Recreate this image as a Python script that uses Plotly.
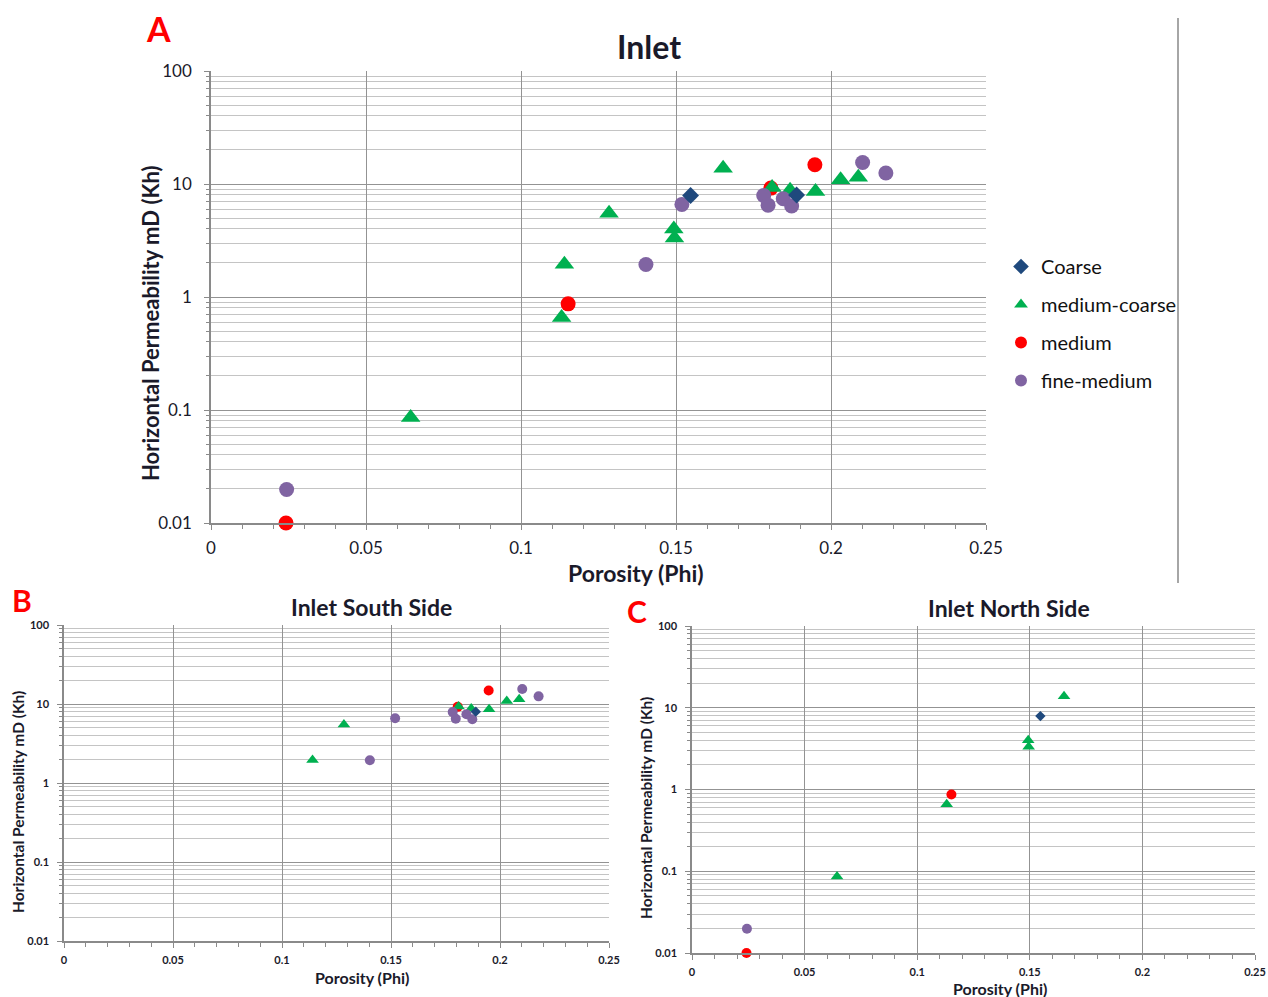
import plotly.graph_objects as go

# ---------------- data ----------------
coarse_south_phi = [0.1889]
coarse_south_kh = [8.0]
coarse_north_phi = [0.1547]
coarse_north_kh = [7.9]

mc_south_phi = [0.1140, 0.1284, 0.1810, 0.1868, 0.1950, 0.2031, 0.2088]
mc_south_kh = [1.95, 5.5, 9.3, 8.8, 8.6, 10.9, 11.5]
mc_north_phi = [0.0644, 0.1131, 0.1493, 0.1495, 0.1652]
mc_north_kh = [0.086, 0.66, 4.0, 3.33, 13.8]

med_south_phi = [0.1806, 0.1948]
med_south_kh = [9.2, 14.8]
med_north_phi = [0.0242, 0.1152]
med_north_kh = [0.01, 0.87]

fm_south_phi = [0.1403, 0.1519, 0.1783, 0.1797, 0.1846, 0.1873, 0.2102, 0.2177]
fm_south_kh = [1.94, 6.6, 7.9, 6.5, 7.4, 6.4, 15.5, 12.5]
fm_north_phi = [0.0244]
fm_north_kh = [0.0198]

x_tickvals = [0, 0.05, 0.1, 0.15, 0.2, 0.25]
x_ticktext = ["0", "0.05", "0.1", "0.15", "0.2", "0.25"]
y_tickvals = [0.01, 0.1, 1, 10, 100]
y_ticktext = ["0.01", "0.1", "1", "10", "100"]

series_names = ["Coarse", "medium-coarse", "medium", "fine-medium"]
colors = {"Coarse": "#1F497D", "medium-coarse": "#00B050",
          "medium": "#FF0000", "fine-medium": "#8064A2"}
symbols = {"Coarse": "diamond", "medium-coarse": "triangle-up",
           "medium": "circle", "fine-medium": "circle"}

south = {"Coarse": (coarse_south_phi, coarse_south_kh),
         "medium-coarse": (mc_south_phi, mc_south_kh),
         "medium": (med_south_phi, med_south_kh),
         "fine-medium": (fm_south_phi, fm_south_kh)}
north = {"Coarse": (coarse_north_phi, coarse_north_kh),
         "medium-coarse": (mc_north_phi, mc_north_kh),
         "medium": (med_north_phi, med_north_kh),
         "fine-medium": (fm_north_phi, fm_north_kh)}

W, H = 1268, 997
FONT = "Lato"
TXT = "#1a1a2a"

def px(x):
    return x / W

def py(y):
    return 1 - y / H

fig = go.Figure()

draw_order = ["medium", "medium-coarse", "fine-medium", "Coarse"]
sizes_big = {"Coarse": 13, "medium-coarse": 17, "medium": 15, "fine-medium": 15}
sizes_small = {"Coarse": 8, "medium-coarse": 11, "medium": 10, "fine-medium": 10}

# Panel A: all points
for name in draw_order:
    xs = south[name][0] + north[name][0]
    ys = south[name][1] + north[name][1]
    fig.add_trace(go.Scatter(
        x=xs, y=ys, mode="markers", name=name, xaxis="x", yaxis="y",
        legendrank=series_names.index(name) + 1,
        legendgroup=name,
        cliponaxis=False,
        marker=dict(color=colors[name], symbol=symbols[name], size=sizes_big[name],
                    line=dict(width=0))))

# Panel B: south
for name in draw_order:
    fig.add_trace(go.Scatter(
        x=south[name][0], y=south[name][1], mode="markers", name=name,
        xaxis="x2", yaxis="y2", showlegend=False, cliponaxis=False,
        marker=dict(color=colors[name], symbol=symbols[name], size=sizes_small[name],
                    line=dict(width=0))))

# Panel C: north
for name in draw_order:
    fig.add_trace(go.Scatter(
        x=north[name][0], y=north[name][1], mode="markers", name=name,
        xaxis="x3", yaxis="y3", showlegend=False, cliponaxis=False,
        marker=dict(color=colors[name], symbol=symbols[name], size=sizes_small[name],
                    line=dict(width=0))))


def xaxis(domain, anchor, fsize, bold=False, standoff=4):
    return dict(domain=domain, anchor=anchor, range=[0, 0.25], automargin=False,
                tickvals=x_tickvals, ticktext=x_ticktext,
                showgrid=True, gridcolor="#939393", gridwidth=1.3,
                showline=True, linecolor="#8a8a8a", linewidth=1.5,
                ticks="outside", ticklen=5, tickcolor="#8a8a8a",
                ticklabelstandoff=standoff,
                minor=dict(dtick=0.01, ticks="outside", ticklen=4,
                           tickcolor="#8a8a8a", showgrid=False),
                tickfont=dict(family=FONT, size=fsize, color=TXT,
                              weight="bold" if bold else "normal"),
                zeroline=False, mirror=False, fixedrange=True)


def yaxis(domain, anchor, fsize, bold=False, standoff=4):
    return dict(domain=domain, anchor=anchor, type="log", range=[-2, 2], automargin=False,
                tickvals=y_tickvals, ticktext=y_ticktext,
                showgrid=True, gridcolor="#939393", gridwidth=1.3,
                showline=True, linecolor="#8a8a8a", linewidth=1.5,
                ticks="outside", ticklen=5, tickcolor="#8a8a8a",
                ticklabelstandoff=standoff,
                minor=dict(dtick="D1", ticks="outside", ticklen=3,
                           tickcolor="#8a8a8a", showgrid=True,
                           gridcolor="#c4c4c4", gridwidth=1.3),
                tickfont=dict(family=FONT, size=fsize, color=TXT,
                              weight="bold" if bold else "normal"),
                zeroline=False, fixedrange=True)


fig.update_layout(
    template="none",
    width=W, height=H,
    margin=dict(l=0, r=0, t=0, b=0, autoexpand=False),
    paper_bgcolor="white", plot_bgcolor="white",
    font=dict(family=FONT, color=TXT),
    xaxis=xaxis([px(211), px(986)], "y", 17, standoff=4),
    yaxis=yaxis([py(523), py(71)], "x", 17, standoff=9),
    xaxis2=xaxis([px(64), px(609)], "y2", 11, True, standoff=3),
    yaxis2=yaxis([py(941), py(625)], "x2", 11, True, standoff=6),
    xaxis3=xaxis([px(692), px(1255)], "y3", 11, True, standoff=3),
    yaxis3=yaxis([py(953), py(626)], "x3", 11, True, standoff=6),
    showlegend=True,
    legend=dict(x=px(1001), y=py(247), xanchor="left", yanchor="top",
                font=dict(family=FONT, size=20, color="#111111"),
                tracegroupgap=9, itemsizing="constant", itemwidth=30,
                bgcolor="rgba(0,0,0,0)"),
    shapes=[dict(type="line", xref="paper", yref="paper",
                 x0=px(1178), x1=px(1178), y0=py(18), y1=py(583),
                 line=dict(color="#a6a6a6", width=2))],
)

ann = []
def add_text(text, x, y, size, color=TXT, bold=True, angle=0):
    ann.append(dict(text=text, x=px(x), y=py(y), xref="paper", yref="paper",
                    showarrow=False, textangle=angle, xanchor="center", yanchor="middle",
                    font=dict(family=FONT, size=size, color=color,
                              weight="bold" if bold else "normal")))

# panel letters
add_text("A", 158, 28, 34, "#FF0000")
add_text("B", 22, 600, 30, "#FF0000")
add_text("C", 637, 611, 30, "#FF0000")
# titles
add_text("Inlet", 649, 47, 32)
add_text("Inlet South Side", 371, 607, 23)
add_text("Inlet North Side", 1009, 608, 23)
# axis titles
add_text("Porosity (Phi)", 636, 573, 23)
add_text("Horizontal Permeability mD (Kh)", 150, 323, 22, angle=-90)
add_text("Porosity (Phi)", 362, 977, 16)
add_text("Horizontal Permeability mD (Kh)", 18, 802, 15.5, angle=-90)
add_text("Porosity (Phi)", 1000, 988, 16)
add_text("Horizontal Permeability mD (Kh)", 646, 808, 15.5, angle=-90)

fig.update_layout(annotations=ann)

fig.write_html("out.html")
